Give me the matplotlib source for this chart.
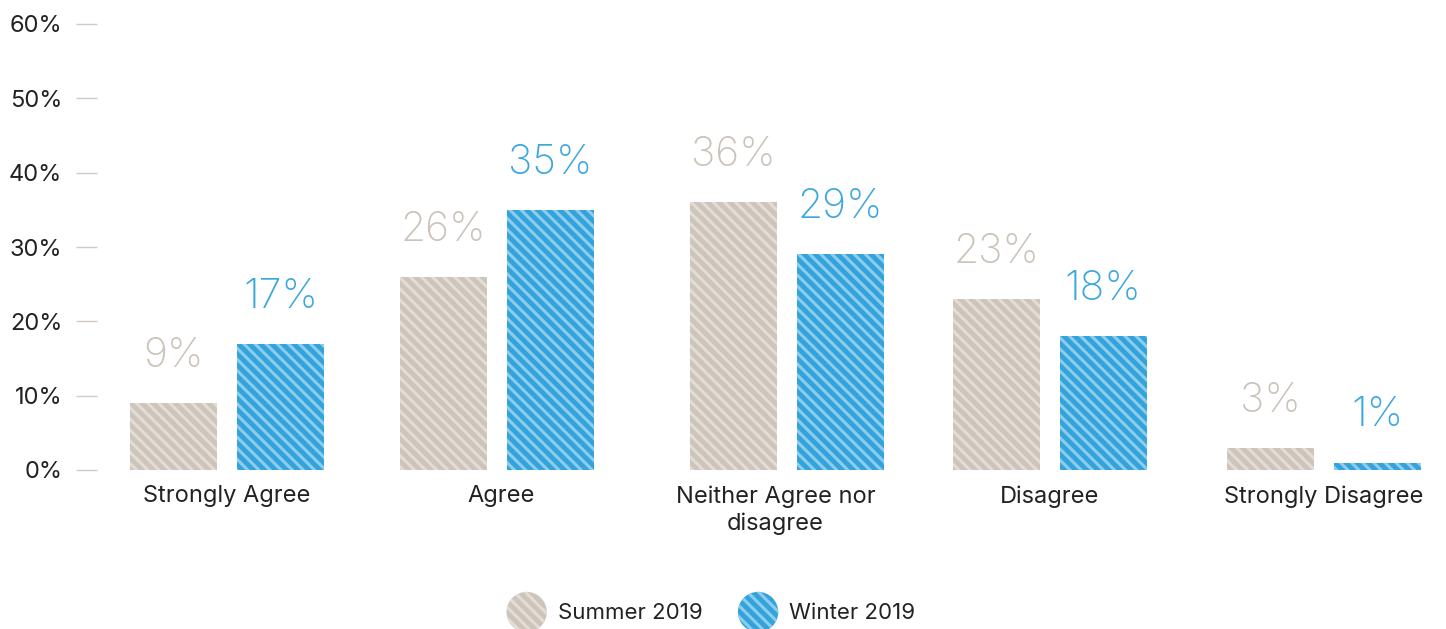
import matplotlib
matplotlib.use("Agg")
import matplotlib.pyplot as plt
import matplotlib.patches as mpatches
from matplotlib.legend_handler import HandlerPatch
import numpy as np

categories = ["Strongly Agree", "Agree", "Neither Agree nor\ndisagree", "Disagree", "Strongly Disagree"]
summer_2019 = [9, 26, 36, 23, 3]
winter_2019 = [17, 35, 29, 18, 1]
series_names = ["Summer 2019", "Winter 2019"]
y_ticks = [0, 10, 20, 30, 40, 50, 60]

SUMMER_FACE, SUMMER_STRIPE, SUMMER_TEXT = "#cdc4ba", "#e3ddd6", "#cbc2b8"
WINTER_FACE, WINTER_STRIPE, WINTER_TEXT = "#35a3db", "#8ccdee", "#3aa7df"
FONT = ["Inter", "DejaVu Sans"]

plt.rcParams["font.family"] = FONT
plt.rcParams["hatch.linewidth"] = 2.2

fig = plt.figure(figsize=(14.46, 6.29), dpi=100)
ax = fig.add_axes([97 / 1446, 1 - 470 / 629, (1440 - 97) / 1446, (470 - 24) / 629])

x = np.arange(len(categories))
# bar pairs sit slightly off the label centres for the middle groups
group_centres = x + np.array([0.0, -0.015, 0.042, 0.0, 0.0])
width = 0.317
offset = 0.195

bars_s = ax.bar(group_centres - offset, summer_2019, width, color=SUMMER_FACE, edgecolor=SUMMER_STRIPE,
                linewidth=0, hatch="\\\\\\", label=series_names[0])
bars_w = ax.bar(group_centres + offset, winter_2019, width, color=WINTER_FACE, edgecolor=WINTER_STRIPE,
                linewidth=0, hatch="\\\\\\", label=series_names[1])

for bars, vals, col in ((bars_s, summer_2019, SUMMER_TEXT), (bars_w, winter_2019, WINTER_TEXT)):
    for b, v in zip(bars, vals):
        ax.annotate(f"{v}%", (b.get_x() + b.get_width() / 2, v), xytext=(0, 26),
                    textcoords="offset points", ha="center", va="baseline",
                    fontsize=29.5, fontweight="light", color=col)

ax.set_xlim(-0.474, 4.423)
ax.set_ylim(0, 60)
ax.set_yticks(y_ticks)
ax.set_yticklabels([f"{t}%" for t in y_ticks], fontsize=17, color="#222222")
ax.tick_params(axis="y", length=15, width=1, color="#d3cbc3", pad=10)
ax.set_xticks(x)
ax.set_xticklabels(categories, fontsize=17, color="#222222", linespacing=1.28)
ax.tick_params(axis="x", length=0, pad=11)
for s in ax.spines.values():
    s.set_visible(False)


def circle_patch(legend, orig_handle, xdescent, ydescent, width, height, fontsize):
    return mpatches.Circle((width / 2 - xdescent, height / 2 - ydescent), 14.5)


handles = [mpatches.Patch(facecolor=SUMMER_FACE, edgecolor=SUMMER_STRIPE, linewidth=0, hatch="\\\\\\"),
           mpatches.Patch(facecolor=WINTER_FACE, edgecolor=WINTER_STRIPE, linewidth=0, hatch="\\\\\\")]
fig.legend(handles, series_names, loc="center", bbox_to_anchor=(711 / 1446, 1 - 612 / 629),
           ncol=2, frameon=False, fontsize=16, handlelength=1.8, handleheight=1.8,
           columnspacing=1.6, handletextpad=0.5,
           handler_map={mpatches.Patch: HandlerPatch(patch_func=circle_patch)},
           labelcolor="#222222")

fig.savefig("out.png", dpi=100)
